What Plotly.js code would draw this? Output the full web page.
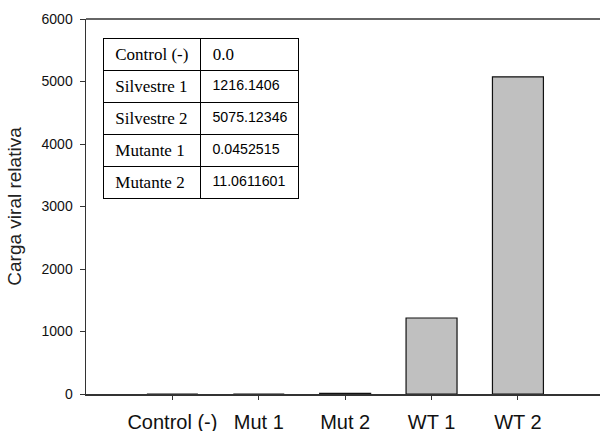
<!DOCTYPE html>
<html><head><meta charset="utf-8">
<script src="https://cdn.plot.ly/plotly-3.0.1.min.js"></script>
<style>html,body{margin:0;padding:0;background:#fff}#chart{width:600px;height:431px}</style>
</head><body><div id="chart"></div>
<script>
const categories = ["Control (-)", "Mut 1", "Mut 2", "WT 1", "WT 2"];
const values = [0.0, 0.0452515, 11.0611601, 1216.1406, 5075.12346];
const tableNames = ["Control (-)", "Silvestre 1", "Silvestre 2", "Mutante 1", "Mutante 2"];
const tableValues = ["0.0", "1216.1406", "5075.12346", "0.0452515", "11.0611601"];
const yTicks = [0, 1000, 2000, 3000, 4000, 5000, 6000];

const serif = "Liberation Serif, Times New Roman, serif";
const sans = "Liberation Sans, Arial, sans-serif";

const bar = {
  type: "bar", x: categories.map((c, i) => i), y: values,
  width: 0.59,
  marker: {color: "#c0c0c0", line: {color: "#111", width: 1.2}},
  hoverinfo: "none"
};

// keep each cell on one line (non-breaking spaces) with a small left inset
const nb = s => "\u00a0" + s.replace(/ /g, "\u00a0");
const table = {
  type: "table",
  domain: {x: [0.0331, 0.4125], y: [0.515, 0.947]},
  columnwidth: [1, 1],
  header: {
    values: [nb(tableNames[0]), nb(tableValues[0])],
    height: 32, align: "left",
    line: {color: "#000", width: 1}, fill: {color: "#fff"},
    font: {family: serif, size: 17, color: "#000"}
  },
  cells: {
    values: [tableNames.slice(1).map(nb), tableValues.slice(1).map(nb)],
    height: 32, align: "left",
    line: {color: "#000", width: 1}, fill: {color: "#fff"},
    font: {family: [serif, sans], size: [17, 14.2], color: "#000"}
  }
};

const layout = {
  width: 600, height: 431,
  margin: {l: 86, r: 0, t: 19, b: 37},
  paper_bgcolor: "#fff", plot_bgcolor: "#fff",
  showlegend: false,
  xaxis: {
    range: [-1, 4.95], tickmode: "array", tickvals: categories.map((c, i) => i), ticktext: categories,
    showgrid: false, zeroline: false, showline: true, linecolor: "#333", linewidth: 1.5,
    ticks: "outside", ticklen: 4, tickcolor: "#333", tickwidth: 1, ticklabelstandoff: 5,
    tickfont: {family: sans, size: 20, color: "#111"}
  },
  yaxis: {
    range: [0, 6000], tickvals: yTicks, ticktext: yTicks.map(String),
    showgrid: false, zeroline: false, showline: true, linecolor: "#333", linewidth: 1.5,
    ticks: "outside", ticklen: 5, tickcolor: "#333", tickwidth: 1, ticklabelstandoff: 4,
    tickfont: {family: sans, size: 14, color: "#111"},
    title: {text: "Carga viral relativa", font: {family: sans, size: 19, color: "#222"}, standoff: 15}
  },
  shapes: [{type: "line", xref: "paper", yref: "paper", x0: 0, x1: 1, y0: 1, y1: 1,
            line: {color: "#333", width: 1.5}}]
};

Plotly.newPlot("chart", [bar, table], layout, {displayModeBar: false, staticPlot: true});
</script></body></html>
